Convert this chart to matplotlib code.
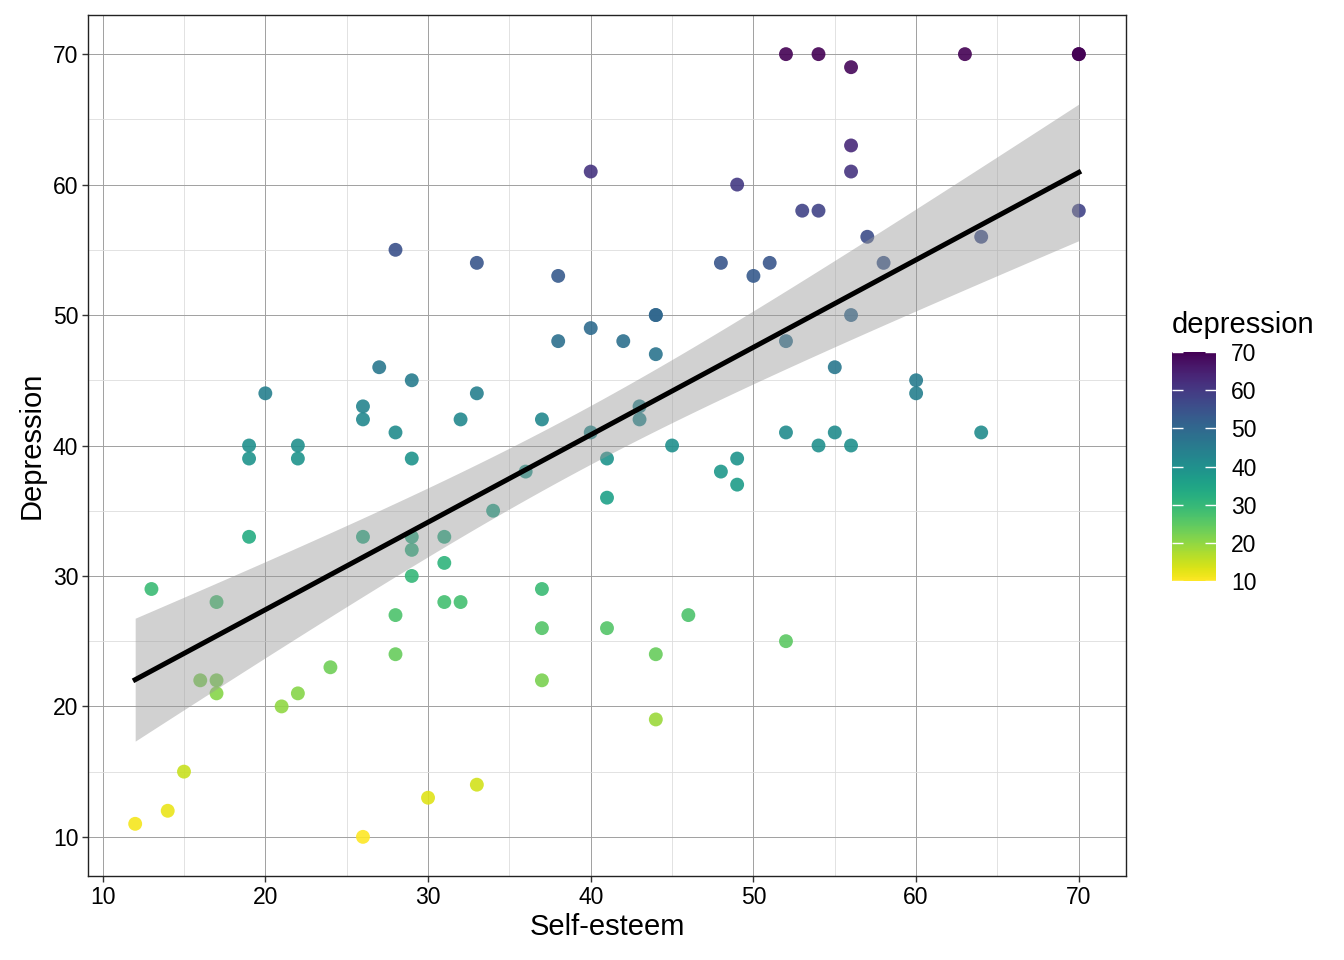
import numpy as np
import matplotlib.pyplot as plt
from matplotlib import cm, colors

plt.rcParams['font.family'] = ['Liberation Sans', 'DejaVu Sans']

# self-esteem vs depression
self_esteem = [12, 13, 14, 15, 16, 17, 17, 17, 19, 19, 19, 20, 21, 22, 22, 22,
               24, 26, 26, 26, 26, 27, 28, 28, 28, 28, 29, 29, 29, 29, 29, 30,
               31, 31, 31, 32, 32, 33, 33, 33, 34, 36, 37, 37, 37, 37, 38, 38,
               40, 40, 40, 41, 41, 41, 42, 43, 43, 44, 44, 44, 44, 44, 45, 46,
               48, 48, 49, 49, 49, 50, 51, 52, 52, 52, 52, 53, 54, 54, 54, 55,
               55, 56, 56, 56, 56, 56, 57, 58, 60, 60, 63, 64, 64, 70, 70, 70]
depression = [11, 29, 12, 15, 22, 28, 22, 21, 40, 39, 33, 44, 20, 40, 39, 21,
              23, 43, 42, 33, 10, 46, 55, 41, 27, 24, 45, 39, 33, 32, 30, 13,
              33, 31, 28, 42, 28, 54, 44, 14, 35, 38, 42, 29, 26, 22, 53, 48,
              61, 49, 41, 39, 36, 26, 48, 43, 42, 50, 50, 47, 24, 19, 40, 27,
              54, 38, 60, 39, 37, 53, 54, 70, 48, 41, 25, 58, 70, 58, 40, 46,
              41, 69, 63, 61, 50, 40, 56, 54, 45, 44, 70, 56, 41, 70, 70, 58]

x = np.array(self_esteem, dtype=float)
y = np.array(depression, dtype=float)

# linear fit with 95% confidence band (like geom_smooth(method="lm"))
n = len(x)
slope, intercept = np.polyfit(x, y, 1)
resid = y - (slope * x + intercept)
s = np.sqrt(np.sum(resid ** 2) / (n - 2))
sxx = np.sum((x - x.mean()) ** 2)
xs = np.linspace(x.min(), x.max(), 80)
fit = slope * xs + intercept
se = s * np.sqrt(1 / n + (xs - x.mean()) ** 2 / sxx)
t_crit = 1.985
lo = fit - t_crit * se
hi = fit + t_crit * se

fig = plt.figure(figsize=(13.44, 9.6), dpi=100)
ax = fig.add_axes([88 / 1344, 84 / 960, 1038 / 1344, 861 / 960])

norm = colors.Normalize(vmin=10, vmax=70)
cmap = plt.get_cmap('viridis_r')

ax.scatter(x, y, c=y, cmap=cmap, norm=norm, s=100, alpha=0.9,
           edgecolors='none', zorder=3)
ax.fill_between(xs, lo, hi, color='#999999', alpha=0.45, linewidth=0, zorder=4)
ax.plot(xs, fit, color='black', linewidth=3.6, zorder=5)

ax.set_xlim(9.1, 72.9)
ax.set_ylim(7, 73)
ax.set_xticks(range(10, 71, 10))
ax.set_yticks(range(10, 71, 10))
ax.set_xticks(range(15, 71, 10), minor=True)
ax.set_yticks(range(15, 71, 10), minor=True)
ax.grid(which='major', color='#a0a0a0', linewidth=0.7, zorder=0)
ax.grid(which='minor', color='#dddddd', linewidth=0.6, zorder=0)
ax.set_axisbelow(True)
for sp in ax.spines.values():
    sp.set_color('#222222')
    sp.set_linewidth(1.0)
ax.tick_params(which='major', length=4, width=1, color='#333333',
               labelsize=16.5, labelcolor='black', pad=3)
ax.tick_params(which='minor', length=0)

ax.set_xlabel('Self-esteem', fontsize=21, labelpad=3)
ax.set_ylabel('Depression', fontsize=21, labelpad=5)

# colour bar legend
cax = fig.add_axes([1172 / 1344, 379 / 960, 44 / 1344, 229 / 960])
cb = fig.colorbar(cm.ScalarMappable(norm=norm, cmap=cmap), cax=cax)
cb.outline.set_visible(False)
cb.set_ticks(range(10, 71, 10))
cax.tick_params(direction='in', color='white', length=8, width=1,
                left=True, right=True, labelleft=False, labelright=True,
                labelsize=16.5, pad=11)
cax.set_title('depression', fontsize=21, loc='left', pad=14, x=0.0)

fig.savefig('out.png', dpi=100)
